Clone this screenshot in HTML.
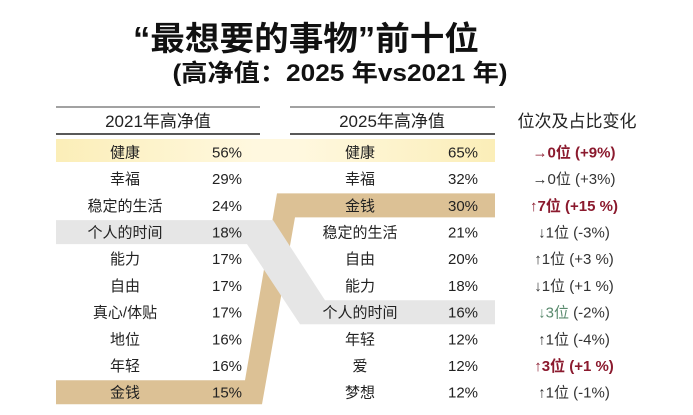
<!DOCTYPE html>
<html><head><meta charset="utf-8">
<style>
body{margin:0;background:#fff;width:693px;height:415px;overflow:hidden}
svg{display:block}
text{font-family:"Liberation Sans","Noto Sans CJK SC",sans-serif}
</style></head>
<body>
<svg id="chart" width="693" height="415" viewBox="0 0 693 415">
<defs>
<linearGradient id="yel" x1="0" x2="1" y1="0" y2="0">
<stop offset="0" stop-color="#fbeeb8"/><stop offset="0.45" stop-color="#fff8df"/><stop offset="0.55" stop-color="#fff8df"/><stop offset="1" stop-color="#fbeeb8"/>
</linearGradient>
</defs>
<text x="306" y="50" font-size="33" font-weight="bold" text-anchor="middle" textLength="346" lengthAdjust="spacingAndGlyphs" fill="#111">“最想要的事物”前十位</text>
<text x="340" y="81" font-size="24" font-weight="bold" text-anchor="middle" textLength="335" lengthAdjust="spacingAndGlyphs" fill="#111">(高净值：2025 年vs2021 年)</text>
<g id="bands"></g>
<g id="rows"></g>
</svg>
<script>
const names2021 = ["健康","幸福","稳定的生活","个人的时间","能力","自由","真心/体贴","地位","年轻","金钱"];
const pct2021 = [56,29,24,18,17,17,17,16,16,15];
const names2025 = ["健康","幸福","金钱","稳定的生活","自由","能力","个人的时间","年轻","爱","梦想"];
const pct2025 = [65,32,30,21,20,18,16,12,12,12];
const rankChange = ["→0位","→0位","↑7位","↓1位","↑1位","↓1位","↓3位","↑1位","↑3位","↑1位"];
const pctChange = ["(+9%)","(+3%)","(+15 %)","(-3%)","(+3 %)","(+1 %)","(-2%)","(-4%)","(+1 %)","(-1%)"];
const changeStyle = ["hl","n","hl","n","n","n","g","n","hl","n"];

const NS="http://www.w3.org/2000/svg";
const svg=document.getElementById('chart');
const rowsG=document.getElementById('rows');
const bandsG=document.getElementById('bands');
const rowH=26.7, row0=139;
function rowTop(i){return row0+i*rowH;}
function rowMid(i){return rowTop(i)+rowH/2;}
function mk(tag,attrs,parent){const e=document.createElementNS(NS,tag);for(const k in attrs)e.setAttribute(k,attrs[k]);parent.appendChild(e);return e;}

const y0=rowTop(0);
const hb=mk('rect',{x:56,y:y0,width:439,height:23,fill:'url(#yel)'},bandsG);



const mi=names2021.indexOf("金钱"), mj=names2025.indexOf("金钱");
const a=rowTop(mi)+1, b=rowTop(mj)+1, h=24;
const gold=mk('polygon',{points:`56,${a} 245,${a} 277,${b} 495,${b} 495,${b+h} 295,${b+h} 262,${a+h} 56,${a+h}`,fill:'#dcc195'},bandsG);



const ti=names2021.indexOf("个人的时间"), tj=names2025.indexOf("个人的时间");
const c=rowTop(ti)+1, d=rowTop(tj)+1;
const gray=mk('polygon',{points:`56,${c} 273,${c} 325,${d} 495,${d} 495,${d+h} 300,${d+h} 247,${c+h} 56,${c+h}`,fill:'#e6e6e6'},bandsG);



[[56,260],[290,495]].forEach(([x1,x2],k)=>{
  const t=mk('line',{x1:x1,x2:x2,y1:107,y2:107,stroke:'#444','stroke-width':1},rowsG);
  
  
  const u=mk('line',{x1:x1,x2:x2,y1:134,y2:134,stroke:'#222','stroke-width':1.5},rowsG);
  
  
});
function txt(x,y,s,size,fill,weight,name){
  const t=mk('text',{x:x,y:y,'font-size':size,fill:fill,'text-anchor':'middle','font-weight':weight||'normal'},rowsG);
  t.textContent=s;
  
  
  return t;
}
txt(158,127,"2021年高净值",17,'#222','normal','header-2021');
txt(392,127,"2025年高净值",17,'#222','normal','header-2025');
txt(577,127,"位次及占比变化",17,'#222','normal','header-change');

for(let i=0;i<names2021.length;i++){
  const y=rowMid(i)+5;
  txt(125,y,names2021[i],15,'#222','normal','item-2021');
  txt(227,y,pct2021[i]+"%",15,'#222','normal','pct-2021');
  txt(360,y,names2025[i],15,'#222','normal','item-2025');
  txt(463,y,pct2025[i]+"%",15,'#222','normal','pct-2025');
  const st=changeStyle[i];
  const t=mk('text',{x:574,y:y,'font-size':15,'text-anchor':'middle'},rowsG);
  
  
  const s1=mk('tspan',{fill: st==='hl'?'#8b1a2e':(st==='g'?'#5a8a6e':'#333'),'font-weight':st==='hl'?'bold':'normal'},t);
  s1.textContent=rankChange[i]+" ";
  const s2=mk('tspan',{fill: st==='hl'?'#8b1a2e':'#333','font-weight':st==='hl'?'bold':'normal'},t);
  s2.textContent=pctChange[i];
}
</script>
</body></html>
